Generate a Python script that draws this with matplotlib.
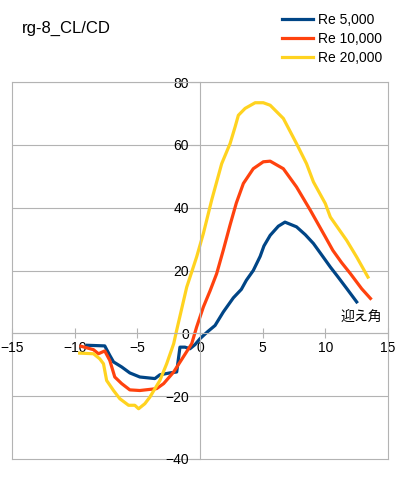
import matplotlib
matplotlib.use('Agg')
import matplotlib.pyplot as plt

plt.rcParams['font.family'] = ['Liberation Sans', 'Noto Sans CJK JP', 'DejaVu Sans']

# Re 5,000
x_5k = [-9.0, -7.6, -7.2, -6.9, -6.25, -5.6, -4.8, -3.6, -3.2, -2.4, -1.86, -1.6, -1.2,
        -0.8, -0.4, 0.0, 0.6, 1.2, 1.86, 2.66, 3.3, 3.7, 4.25, 4.8, 5.1, 5.6, 6.25, 6.78,
        7.7, 8.4, 9.05, 9.7, 10.4, 11.0, 11.7, 12.5]
y_5k = [-3.8, -4.0, -7.0, -9.1, -10.7, -12.6, -13.9, -14.4, -13.2, -12.6, -12.3, -4.4, -4.4,
        -4.9, -3.6, -1.7, 0.5, 2.5, 6.8, 11.3, 14.0, 16.9, 20.0, 24.5, 27.8, 31.2, 34.1, 35.4,
        33.9, 31.4, 28.6, 25.0, 21.1, 18.0, 14.3, 10.0]

# Re 10,000
x_10k = [-9.5, -8.5, -8.1, -7.6, -7.2, -6.8, -6.25, -5.6, -4.8, -3.46, -2.9, -2.1, -1.33,
         -0.66, -0.27, 0.27, 0.8, 1.33, 1.86, 2.4, 2.9, 3.46, 4.25, 5.05, 5.6, 6.65, 7.7, 8.8,
         10.0, 10.6, 11.3, 12.0, 12.9, 13.6]
y_10k = [-4.1, -5.2, -6.5, -5.6, -8.6, -13.9, -16.0, -18.0, -18.2, -17.6, -16.0, -12.3, -7.5,
         -3.3, 2.0, 8.4, 13.5, 19.0, 26.5, 34.5, 41.5, 47.7, 52.4, 54.6, 54.8, 52.4, 46.6, 39.2,
         30.7, 26.4, 22.5, 19.0, 14.2, 11.1]

# Re 20,000
x_20k = [-9.6, -8.5, -8.0, -7.7, -7.45, -6.9, -6.4, -5.7, -5.2, -4.9, -4.4, -4.0, -3.2,
         -2.66, -2.1, -1.86, -1.06, -0.27, 0.27, 0.93, 1.73, 2.4, 2.8, 3.06, 3.6, 4.4, 5.05,
         5.6, 6.65, 7.7, 8.5, 9.05, 10.0, 10.4, 11.7, 12.5, 13.4]
y_20k = [-6.3, -6.5, -8.1, -9.7, -15.0, -18.2, -20.8, -22.9, -22.9, -24.0, -22.4, -20.3, -15.0,
         -9.7, -3.3, 1.0, 14.7, 24.3, 31.8, 42.4, 54.0, 60.4, 65.7, 69.4, 71.6, 73.4, 73.4,
         72.6, 68.4, 60.4, 54.0, 48.2, 41.3, 37.0, 29.6, 24.3, 17.9]

grid_c = '#b3b3b3'

fig = plt.figure(figsize=(4, 5), dpi=100)
ax = fig.add_axes([12/400, 1-459/500, 376/400, 377/500])

ax.plot(x_5k, y_5k, color='#004586', lw=2.3, label='Re 5,000')
ax.plot(x_10k, y_10k, color='#ff420e', lw=2.3, label='Re 10,000')
ax.plot(x_20k, y_20k, color='#ffd320', lw=2.3, label='Re 20,000')

ax.set_xlim(-15, 15)
ax.set_ylim(-40, 80)
ax.set_xticks(range(-15, 16, 5))
ax.set_yticks(range(-40, 81, 20))

# grid and outer box
for y in range(-20, 81, 20):
    ax.axhline(y, color=grid_c, lw=0.8, zorder=0)
ax.axhline(-40, color=grid_c, lw=0.8, zorder=0, clip_on=False)
ax.axvline(-15, color=grid_c, lw=0.8, zorder=0, clip_on=False)

for s in ['top', 'right', 'left', 'bottom']:
    ax.spines[s].set_color(grid_c)
    ax.spines[s].set_linewidth(0.8)
ax.spines['left'].set_position(('data', 0))
ax.spines['bottom'].set_position(('data', 0))

ax.tick_params(axis='x', direction='inout', length=7, width=0.8, color=grid_c,
               labelsize=10, pad=2)
ax.tick_params(axis='y', direction='out', length=7, width=0.8, color=grid_c,
               labelsize=10, pad=1)

ax.text(11.2, 4.8, '迎え角', fontsize=10, va='center', ha='left',
        family=['Noto Sans CJK JP', 'DejaVu Sans'])

fig.text(22/400, 1-28/500, 'rg-8_CL/CD', fontsize=12, va='center', ha='left')

fig.legend(loc='upper left', bbox_to_anchor=(282/400, 1-13/500), frameon=False,
           fontsize=10, borderpad=0, borderaxespad=0, handlelength=2.2,
           handletextpad=0.4, labelspacing=0.35)

fig.savefig('out.png', dpi=100)
